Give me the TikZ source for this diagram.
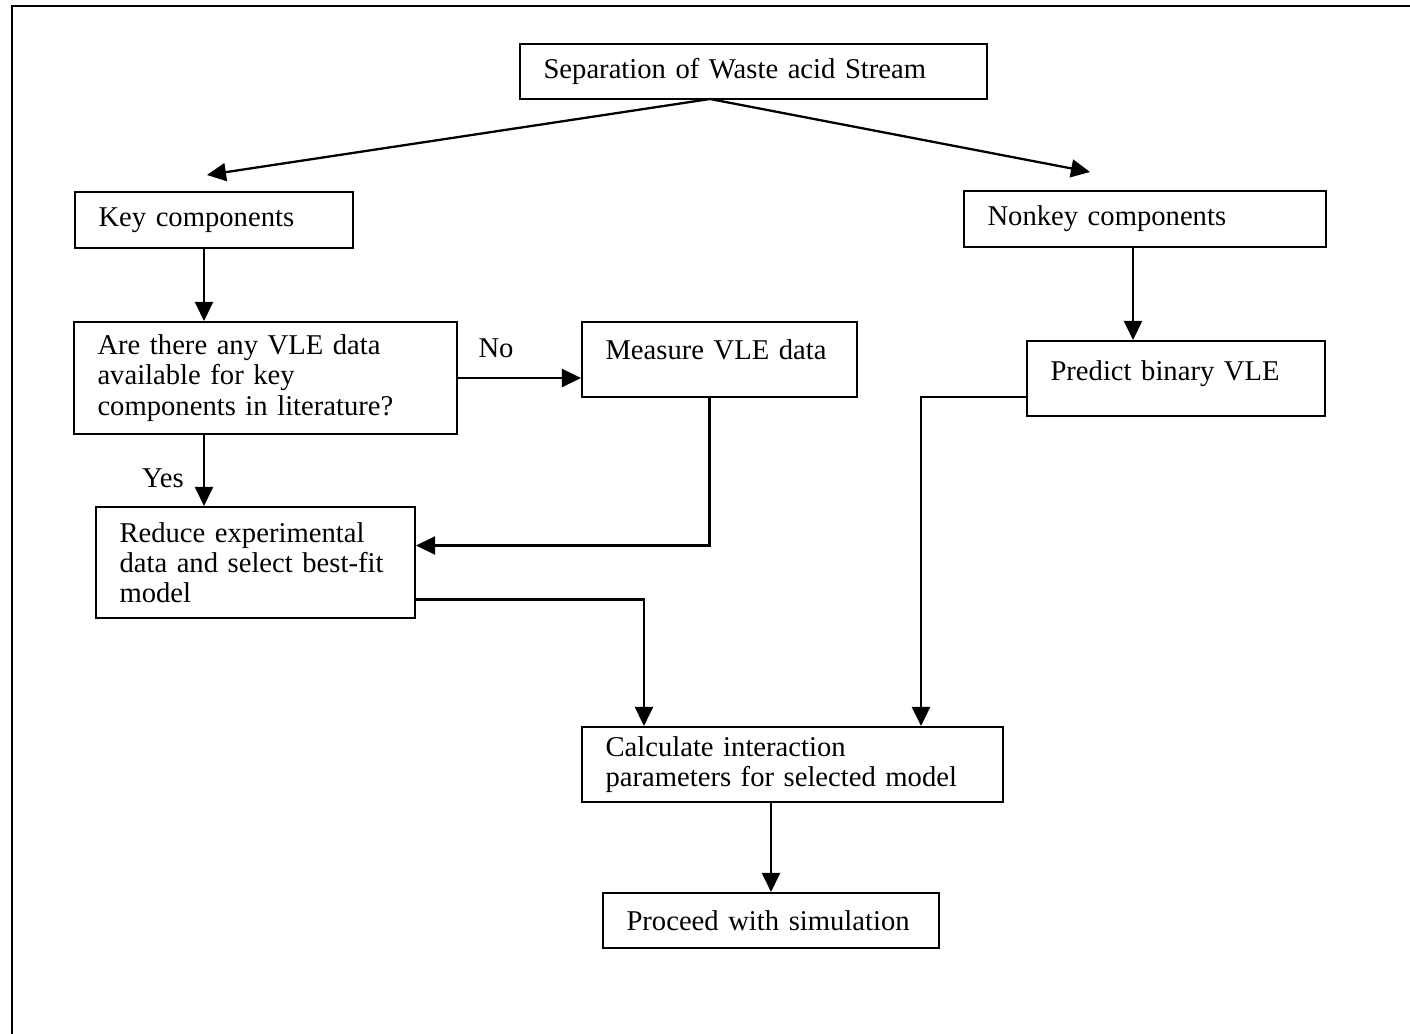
\documentclass[tikz,border=0pt]{standalone}
\usepackage{fontspec}
\setmainfont{Liberation Serif}
\usetikzlibrary{arrows.meta}

\begin{document}
\begin{tikzpicture}[x=0.02cm,y=-0.02cm,>={Triangle[length=0.38cm,width=0.36cm]},
  every node/.style={font=\fontsize{16.3}{17.2}\selectfont},
  box/.style={draw,line width=1.2pt,align=left,inner xsep=0.47cm,inner ysep=0pt},
  flow/.style={->,line width=1.3pt}]
\useasboundingbox (0,0) rectangle (1410,1034);
% frame of the scanned page
\draw[line width=0.8pt] (12,1034) -- (12,6) -- (1410,6);
\draw[line width=1.6pt] (1075,6) -- (1410,6);
% boxes
\node[box,text width=8.4cm,minimum height=1.1cm] (sep) at (753.5,71.5) {Separation of Waste acid Stream};
\node[box,text width=4.62cm,minimum height=1.12cm] (key) at (214,220) {Key components};
\node[box,text width=6.3cm,minimum height=1.12cm] (nonkey) at (1145,219) {Nonkey components};
\node[box,text width=6.72cm,minimum height=2.24cm] (ask) at (265.5,378) {Are there any VLE data\\available for key\\components in literature?};
\node[box,text width=4.56cm,minimum height=1.5cm] (measure) at (719.5,359.5) {Measure VLE data\\[-0.2cm]\mbox{}};
\node[box,text width=5.02cm,minimum height=1.5cm] (predict) at (1176,378.5) {Predict binary VLE\\[-0.28cm]\mbox{}};
\node[box,text width=5.44cm,minimum height=2.22cm] (reduce) at (255.5,562.5) {Reduce experimental\\data and select best-fit\\model};
\node[box,text width=7.48cm,minimum height=1.5cm] (calc) at (792.5,764.5) {Calculate interaction\\parameters for selected model};
\node[box,text width=5.78cm,minimum height=1.1cm] (proceed) at (771,920.5) {Proceed with simulation};
% labels
\node (no) at (496,348) {No};
\node (yes) at (163,478) {Yes};
% connectors
\coordinate (fork) at (710,99);
\coordinate (keyin) at (207,175);
\coordinate (nonkeyin) at (1090,172);
\coordinate (spine) at (204,0);
\draw[flow] (fork) -- (keyin);
\draw[flow] (fork) -- (nonkeyin);
\draw[flow] (key.south -| spine) -- (ask.north -| spine);
\draw[flow] (ask.south -| spine) -- (reduce.north -| spine);
\draw[flow] (ask.east) -- (ask.east -| measure.west);
\draw[flow] ([xshift=-0.2cm]measure.south) |- ([yshift=0.34cm]reduce.east);
\draw[flow] ([yshift=-0.74cm]reduce.east) -| ([xshift=1.26cm]calc.north west);
\draw[flow] ([xshift=-0.24cm]nonkey.south) coordinate (nk) -- (nk |- predict.north);
\draw[flow] ([yshift=-0.37cm]predict.west) -| ([xshift=-1.66cm]calc.north east);
\draw[flow] (proceed.north |- calc.south) -- (proceed.north);
\end{tikzpicture}
\end{document}
